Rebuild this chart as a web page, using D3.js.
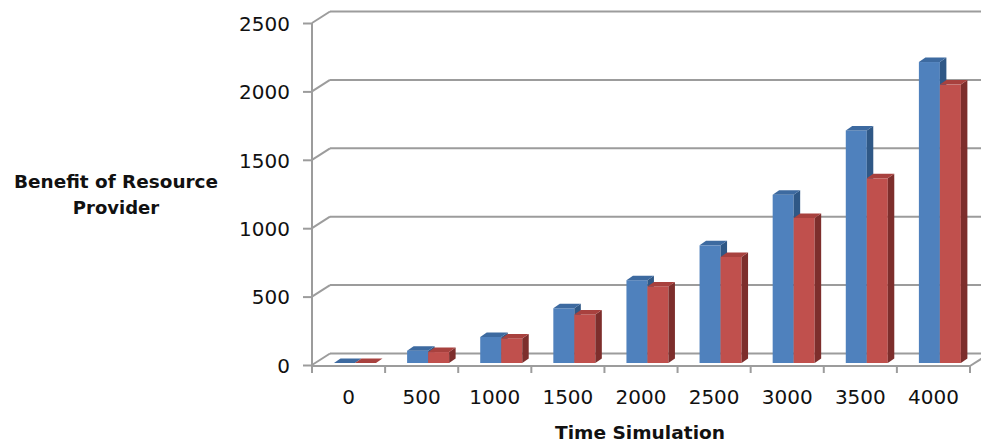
<!DOCTYPE html>
<html>
<head>
<meta charset="utf-8">
<script src="https://cdn.jsdelivr.net/npm/d3@7"></script>
<style>
  body { margin: 0; background: #fff; }
  svg { display: block; }
</style>
</head>
<body>
<svg id="chart"></svg>
<script>
// data
const categories = ["0", "500", "1000", "1500", "2000", "2500", "3000", "3500", "4000"];
const seriesNames = ["blue", "red"];
const blueValues = [0, 90, 190, 400, 605, 860, 1230, 1700, 2200];
const redValues = [0, 80, 180, 355, 560, 775, 1060, 1350, 2035];
const yTicks = [0, 500, 1000, 1500, 2000, 2500];

const width = 981;
const height = 444;

// 3d offsets
const wallDx = 18, wallDy = -11.5;
const barDx = 6.5, barDy = -4.5;
const lineColor = "#9c9c9c";

const colors = {
  blue: { front: "#4f81bd", top: "#3d6aa0", side: "#2f5886" },
  red: { front: "#c0504d", top: "#a8413e", side: "#7d2e2c" }
};

const svg = d3.select("#chart")
  .attr("width", width)
  .attr("height", height);

const xScale = d3.scaleBand()
  .domain(categories)
  .range([312, 970]);

const subScale = d3.scaleBand()
  .domain(seriesNames)
  .range([22, 64]);

const yScale = d3.scaleLinear()
  .domain([0, 2500])
  .range([365, 23]);

// back wall gridlines + left wall diagonals
const grid = svg.append("g");
grid.selectAll("line.back")
  .data(yTicks)
  .enter()
  .append("line")
  .attr("x1", 312 + wallDx)
  .attr("x2", width + 10)
  .attr("y1", d => yScale(d) + wallDy)
  .attr("y2", d => yScale(d) + wallDy);
grid.selectAll("line.side")
  .data(yTicks)
  .enter()
  .append("line")
  .attr("x1", 312)
  .attr("x2", 312 + wallDx)
  .attr("y1", d => yScale(d))
  .attr("y2", d => yScale(d) + wallDy);
grid.selectAll("line")
  .attr("stroke", lineColor)
  .attr("stroke-width", 2);

// floor
const x0 = xScale.range()[0], x1 = xScale.range()[1];
const floorY = yScale(0) + 1;
svg.append("line")
  .attr("x1", x0).attr("x2", x1)
  .attr("y1", floorY).attr("y2", floorY)
  .attr("stroke", lineColor).attr("stroke-width", 2);
svg.append("line")
  .attr("x1", x1).attr("x2", x1 + wallDx)
  .attr("y1", floorY).attr("y2", floorY + wallDy)
  .attr("stroke", lineColor).attr("stroke-width", 2);

// value axis
const yAxis = d3.axisLeft(yScale)
  .tickValues(yTicks)
  .tickSize(9)
  .tickPadding(13)
  .tickFormat(d3.format("d"));
const yAxisG = svg.append("g")
  .attr("transform", "translate(312,0)")
  .call(yAxis);
yAxisG.select(".domain")
  .attr("d", `M0,${yScale(2500)}V${floorY}`);
yAxisG.selectAll("path, line")
  .attr("stroke", lineColor)
  .attr("stroke-width", 2);
yAxisG.selectAll("text")
  .attr("font-family", "DejaVu Sans")
  .attr("font-size", 20)
  .attr("fill", "#111")
  .attr("dy", "0.36em");

// category ticks at band edges
const edges = categories.map(c => xScale(c)).concat([x1]);
svg.selectAll("line.xtick")
  .data(edges)
  .enter()
  .append("line")
  .attr("x1", d => d).attr("x2", d => d)
  .attr("y1", floorY).attr("y2", floorY + 7)
  .attr("stroke", lineColor).attr("stroke-width", 2);

svg.selectAll("text.xlabel")
  .data(categories)
  .enter()
  .append("text")
  .attr("x", d => xScale(d) + xScale.bandwidth() / 2)
  .attr("y", 404)
  .attr("text-anchor", "middle")
  .attr("font-family", "DejaVu Sans")
  .attr("font-size", 20)
  .attr("fill", "#111")
  .text(d => d);

// bars
const barData = [];
categories.forEach((c, i) => {
  barData.push({ cat: c, s: "blue", v: blueValues[i] });
  barData.push({ cat: c, s: "red", v: redValues[i] });
});

const bw = subScale.bandwidth();
const bars = svg.selectAll("g.bar")
  .data(barData)
  .enter()
  .append("g")
  .attr("class", "bar");

const bx = d => xScale(d.cat) + subScale(d.s);
const by0 = yScale(0) - 2;
const byt = d => yScale(d.v) - 2;

bars.append("rect")
  .attr("x", bx)
  .attr("y", byt)
  .attr("width", bw)
  .attr("height", d => by0 - byt(d))
  .attr("fill", d => colors[d.s].front);

bars.append("path")
  .attr("d", d => {
    const x = bx(d) + bw, t = byt(d);
    return `M${x},${t}L${x + barDx},${t + barDy}L${x + barDx},${by0 + barDy}L${x},${by0}Z`;
  })
  .attr("fill", d => colors[d.s].side);

bars.append("path")
  .attr("d", d => {
    const x = bx(d), t = byt(d);
    return `M${x},${t}L${x + bw},${t}L${x + bw + barDx},${t + barDy}L${x + barDx},${t + barDy}Z`;
  })
  .attr("fill", d => colors[d.s].top);

// titles
const yTitle = svg.append("text")
  .attr("text-anchor", "middle")
  .attr("font-family", "DejaVu Sans")
  .attr("font-weight", "bold")
  .attr("font-size", 18)
  .attr("fill", "#111");
yTitle.append("tspan")
  .attr("x", 116).attr("y", 188)
  .attr("textLength", 204).attr("lengthAdjust", "spacingAndGlyphs")
  .text("Benefit of Resource");
yTitle.append("tspan")
  .attr("x", 116).attr("y", 214)
  .text("Provider");

svg.append("text")
  .attr("x", 640)
  .attr("y", 439)
  .attr("text-anchor", "middle")
  .attr("font-family", "DejaVu Sans")
  .attr("font-weight", "bold")
  .attr("font-size", 18)
  .attr("textLength", 170)
  .attr("lengthAdjust", "spacingAndGlyphs")
  .attr("fill", "#111")
  .text("Time Simulation");
</script>
</body>
</html>
